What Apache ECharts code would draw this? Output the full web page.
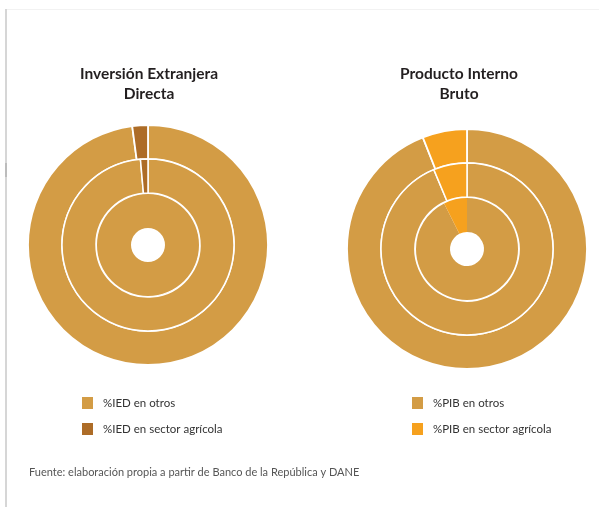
<!DOCTYPE html>
<html>
<head>
<meta charset="utf-8">
<script src="https://cdn.jsdelivr.net/npm/echarts@6/dist/echarts.min.js"></script>
<style>
  html, body { margin: 0; padding: 0; background: #fff; }
  #chart { width: 599px; height: 507px; }
</style>
</head>
<body>
<div id="chart"></div>
<script>
/*** datos: anillos exterior, medio, interior ***/
var iedNombres = ['%IED en otros', '%IED en sector agrícola'];
var iedOtros = [97.9, 98.6, 100];
var iedAgricola = [2.1, 1.4, 0];

var pibNombres = ['%PIB en otros', '%PIB en sector agrícola'];
var pibOtros = [94.0, 93.7, 92.6];
var pibAgricola = [6.0, 6.3, 7.4];

var colorOtros = '#d39c45';
var colorIedAgr = '#ad6c27';
var colorPibAgr = '#f6a11e';

// radios de cada anillo (exterior, medio, interior)
var radios = [[86, 120], [52, 86], [17, 51]];
var bordes = [1.8, 1.5, 0];

function anillos(nombres, otros, agricola, colorAgr, centro) {
	var series = [];
	for (var i = 0; i < otros.length; i++) {
		series.push({
			type: 'pie',
			center: centro,
			radius: radios[i],
			startAngle: 90,
			clockwise: true,
			silent: true,
			label: { show: false },
			labelLine: { show: false },
			itemStyle: { borderColor: '#fff', borderWidth: bordes[i] },
			data: [
				{ name: nombres[0], value: otros[i], itemStyle: { color: colorOtros } },
				{ name: nombres[1], value: agricola[i], itemStyle: { color: colorAgr } }
			]
		});
	}
	return series;
}

var legendBase = {
	orient: 'vertical',
	top: 397,
	padding: 0,
	itemWidth: 11,
	itemHeight: 12,
	itemGap: 14,
	icon: 'rect',
	selectedMode: false,
	itemStyle: { borderWidth: 0 },
	textStyle: { fontFamily: 'Lato', fontSize: 11.5, color: '#333', padding: [0, 0, 0, 5] }
};

var option = {
	animation: false,
	title: [{
		text: 'Inversión Extranjera\nDirecta',
		left: 144,
		top: 59,
		textAlign: 'center',
		textStyle: { fontFamily: 'Lato', fontWeight: 'bold', fontSize: 15.5, lineHeight: 20, color: '#231f20' }
	}, {
		text: 'Producto Interno\nBruto',
		left: 454,
		top: 59,
		textAlign: 'center',
		textStyle: { fontFamily: 'Lato', fontWeight: 'bold', fontSize: 15.5, lineHeight: 20, color: '#231f20' }
	}],
	legend: [
		Object.assign({}, legendBase, { left: 82, data: iedNombres }),
		Object.assign({}, legendBase, { left: 412, data: pibNombres })
	],
	graphic: [
		{ type: 'rect', shape: { x: 5, y: 9, width: 2, height: 498 }, style: { fill: '#d6d6d6' } },
		{ type: 'rect', shape: { x: 5, y: 163, width: 2, height: 14 }, style: { fill: '#bcbcbc' } },
		{ type: 'rect', shape: { x: 7, y: 9, width: 592, height: 1 }, style: { fill: '#f2f2f2' } },
		{
			type: 'text', left: 29, top: 467,
			style: {
				text: 'Fuente: elaboración propia a partir de Banco de la República y DANE',
				font: '11px Lato', fill: '#555'
			}
		}
	],
	series: anillos(iedNombres, iedOtros, iedAgricola, colorIedAgr, [148, 245])
		.concat(anillos(pibNombres, pibOtros, pibAgricola, colorPibAgr, [467, 249]))
};

var myChart = echarts.init(document.getElementById('chart'));
myChart.setOption(option);
</script>
</body>
</html>
